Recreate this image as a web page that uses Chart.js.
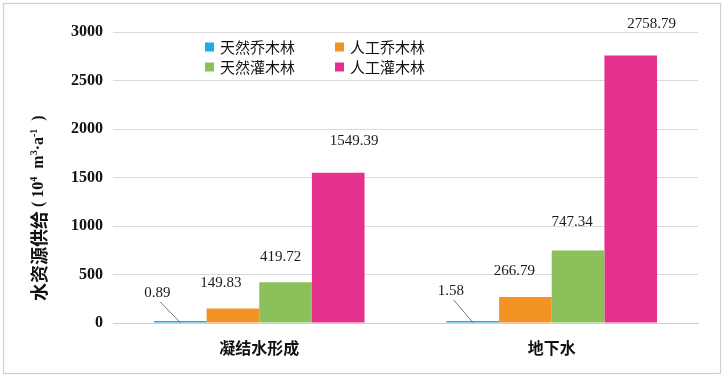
<!DOCTYPE html>
<html>
<head>
<meta charset="utf-8">
<script src="https://cdn.jsdelivr.net/npm/chart.js@4"></script>
<style>
  body { margin: 0; background: #fff; }
</style>
</head>
<body>
<canvas id="myChart" width="724" height="378"></canvas>
<script>
// dados
const categorias = ["凝结水形成", "地下水"];
const nomesSeries = ["天然乔木林", "人工乔木林", "天然灌木林", "人工灌木林"];
const naturalArbor = [0.89, 1.58];
const plantedArbor = [149.83, 266.79];
const naturalShrub = [419.72, 747.34];
const plantedShrub = [1549.39, 2758.79];
const yTicks = [0, 500, 1000, 1500, 2000, 2500, 3000];

const cores = ["#1aaee5", "#f39325", "#8cc05a", "#e5318e"];
// deslocamento (px) de cada rotulo em relacao ao topo da barra
const offsetsRotulos = [
  [[-23, -28], [-22, -30]],
  [[-12, -25], [-11, -26]],
  [[-5, -25], [-6, -28]],
  [[16, -32], [21, -31]],
];
const serif = '"Liberation Serif", "Times New Roman", serif';
const sans = '"Noto Sans CJK SC", sans-serif';

const enfeites = {
  id: "enfeites",
  beforeDraw(chart) {
    const ctx = chart.ctx;
    ctx.save();
    ctx.fillStyle = "#fff";
    ctx.fillRect(0, 0, chart.width, chart.height);
    ctx.strokeStyle = "#cfcfcf";
    ctx.lineWidth = 1.2;
    ctx.strokeRect(3.5, 3.5, 717, 370);
    ctx.restore();
  },
  afterDatasetsDraw(chart) {
    const ctx = chart.ctx;
    ctx.save();
    ctx.font = "15px " + serif;
    ctx.fillStyle = "#1a1a1a";
    ctx.textAlign = "center";
    ctx.textBaseline = "middle";
    chart.data.datasets.forEach((ds, i) => {
      chart.getDatasetMeta(i).data.forEach((bar, j) => {
        const [dx, dy] = offsetsRotulos[i][j];
        const lx = bar.x + dx;
        const ly = bar.y + dy;
        ctx.fillText(ds.data[j].toFixed(2), lx, ly);
        if (i === 0) {
          // linha guia para as barras quase nulas
          ctx.strokeStyle = "#555";
          ctx.lineWidth = 0.8;
          ctx.beginPath();
          ctx.moveTo(lx + 3, ly + 9);
          ctx.lineTo(bar.x, bar.base);
          ctx.stroke();
        }
      });
    });
    ctx.restore();
  },
  afterDraw(chart) {
    const ctx = chart.ctx;
    ctx.save();
    // legenda 2x2
    const colX = [205, 335];
    const rowY = [47, 67];
    ctx.font = "15px " + sans;
    ctx.textBaseline = "middle";
    ctx.textAlign = "left";
    nomesSeries.forEach((nome, i) => {
      const cx = colX[i % 2];
      const cy = rowY[Math.floor(i / 2)];
      ctx.fillStyle = cores[i];
      ctx.fillRect(cx, cy - 4.5, 9, 9);
      ctx.fillStyle = "#111";
      ctx.fillText(nome, cx + 15, cy);
    });

    // titulo do eixo y
    ctx.translate(39, 301);
    ctx.rotate(-Math.PI / 2);
    ctx.fillStyle = "#111";
    const partes = [
      { t: "水资源供给", f: "bold 18px " + sans, dy: 0 },
      { t: " ( ", f: "bold 16px " + serif, dy: 0 },
      { t: "10", f: "bold 16px " + serif, dy: 0 },
      { t: "4", f: "bold 10px " + serif, dy: -5 },
      { t: "  m", f: "bold 16px " + serif, dy: 0 },
      { t: "3", f: "bold 10px " + serif, dy: -5 },
      { t: "·a", f: "bold 16px " + serif, dy: 0 },
      { t: "-1", f: "bold 10px " + serif, dy: -5 },
      { t: "  )", f: "bold 16px " + serif, dy: 0 },
    ];
    let x = 0;
    partes.forEach((p) => {
      ctx.font = p.f;
      ctx.fillText(p.t, x, p.dy);
      x += ctx.measureText(p.t).width;
    });
    ctx.restore();
  },
};

function grafico() {
  const ctx = document.getElementById("myChart");
  const series = [naturalArbor, plantedArbor, naturalShrub, plantedShrub];
  new Chart(ctx, {
    type: "bar",
    data: {
      labels: categorias,
      datasets: series.map((valores, i) => ({
        label: nomesSeries[i],
        data: valores,
        backgroundColor: cores[i],
        borderWidth: 0,
        minBarLength: i === 0 ? 2 : 0,
        categoryPercentage: 0.72,
        barPercentage: 1,
      })),
    },
    options: {
      responsive: false,
      animation: false,
      devicePixelRatio: 1,
      layout: { padding: { top: 32, right: 26, left: 0, bottom: 15 } },
      plugins: {
        legend: { display: false },
        tooltip: { enabled: false },
      },
      scales: {
        x: {
          grid: { display: false },
          border: { color: "#cfcfcf", width: 1 },
          ticks: {
            color: "#111",
            padding: 7,
            font: { family: sans, size: 16, weight: "bold" },
          },
          afterFit: (s) => { s.height = 40; },
        },
        y: {
          min: 0,
          max: 3000,
          afterBuildTicks: (s) => { s.ticks = yTicks.map((v) => ({ value: v })); },
          grid: { color: "#dadada", lineWidth: 1, drawTicks: false },
          border: { display: false },
          ticks: {
            color: "#111",
            padding: 10,
            font: { family: serif, size: 16, weight: "bold" },
            callback: (v) => String(v),
          },
          afterFit: (s) => { s.width = 113; },
        },
      },
    },
    plugins: [enfeites],
  });
}

grafico();
</script>
</body>
</html>
